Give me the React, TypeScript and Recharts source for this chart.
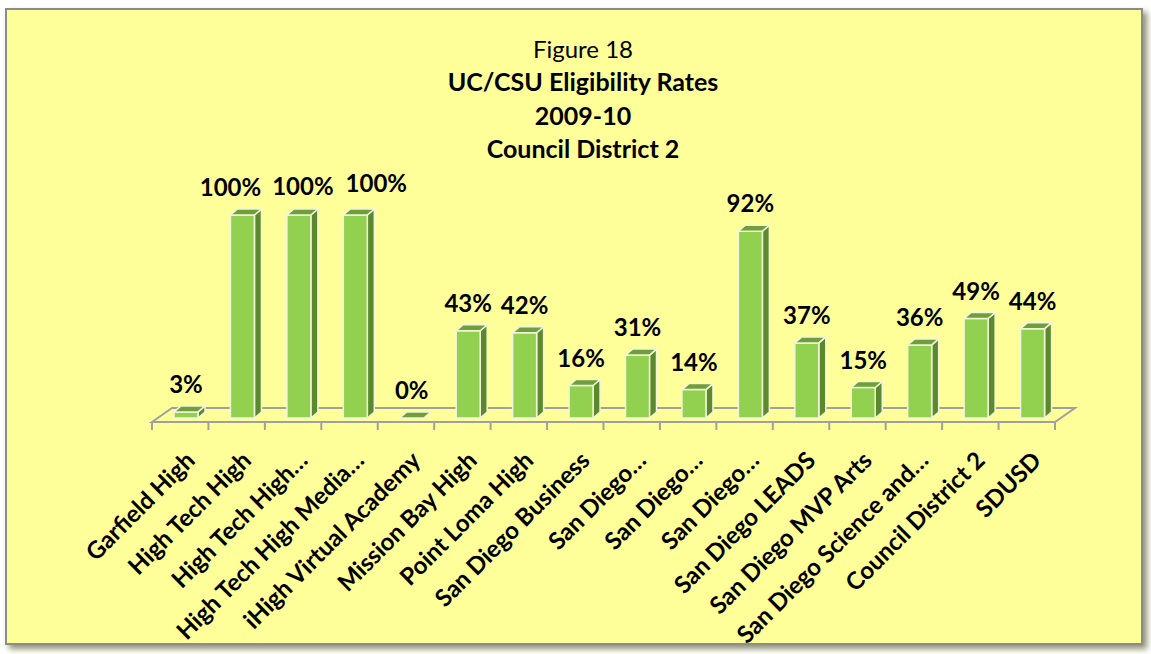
import { Bar, BarChart, LabelList, ReferenceArea, XAxis, YAxis } from "recharts";

const schools = [
  "Garfield High",
  "High Tech High",
  "High Tech High…",
  "High Tech High Media…",
  "iHigh Virtual Academy",
  "Mission Bay High",
  "Point Loma High",
  "San Diego Business",
  "San Diego…",
  "San Diego…",
  "San Diego…",
  "San Diego LEADS",
  "San Diego MVP Arts",
  "San Diego Science and…",
  "Council District 2",
  "SDUSD",
];
const rates = [3, 100, 100, 100, 0, 43, 42, 16, 31, 14, 92, 37, 15, 36, 49, 44];
const titleLines = ["Figure 18", "UC/CSU Eligibility Rates", "2009-10", "Council District 2"];

const chartData = schools.map((name, i) => ({ key: String(i), name, rate: rates[i] }));

const FONT = "Lato, 'Open Sans', sans-serif";
const SHIFT = 6; // bars sit a little behind the front edge of the floor
const DEPTH_X = 7;
const DEPTH_Y = 6;

// the three 100% labels were nudged apart in the original
const labelNudge: Record<number, [number, number]> = {
  1: [-12, 0],
  2: [4, -1],
  3: [21, -4],
};

const Bar3D = (props: any) => {
  const { x, y, width, height } = props;
  const fx = x + SHIFT;
  const h = Math.max(height, 0);
  const top = `${fx},${y} ${fx + DEPTH_X},${y - DEPTH_Y} ${fx + width + DEPTH_X},${y - DEPTH_Y} ${fx + width},${y}`;
  const side = `${fx + width},${y} ${fx + width + DEPTH_X},${y - DEPTH_Y} ${fx + width + DEPTH_X},${y + h - DEPTH_Y} ${fx + width},${y + h}`;
  return (
    <g stroke="#F4F4DC" strokeWidth={1.5} strokeLinejoin="round">
      {h > 0 && <polygon points={side} fill="#5B8A2D" />}
      {h > 0 && <rect x={fx} y={y} width={width} height={h} fill="#92D050" />}
      <polygon points={top} fill="#6E9F38" />
    </g>
  );
};

const Floor = (props: any) => {
  const { x, y, width } = props;
  const n = rates.length;
  const step = width / n;
  const front = y + 4;
  const back = y - 10;
  const dx = 20;
  return (
    <g stroke="#A0A0A0" strokeWidth={2} fill="none">
      <polygon points={`${x},${front} ${x + dx},${back} ${x + width + dx},${back} ${x + width},${front}`} />
      {Array.from({ length: n + 1 }, (_, i) => (
        <line key={i} x1={x + i * step} y1={front} x2={x + i * step} y2={front + 8} />
      ))}
    </g>
  );
};

const SchoolTick = (props: any) => {
  const { x, y, payload } = props;
  const label = schools[Number(payload.value)];
  const ax = x + 16;
  const ay = y + 44;
  return (
    <text
      x={ax}
      y={ay}
      transform={`rotate(-45, ${ax}, ${ay})`}
      textAnchor="end"
      fontFamily={FONT}
      fontWeight={700}
      fontSize={24}
      fill="#000"
    >
      {label}
    </text>
  );
};

const RateLabel = (props: any) => {
  const { x, y, width, value, index } = props;
  const [nx, ny] = labelNudge[index] ?? [0, 0];
  return (
    <text
      x={x + SHIFT + width / 2 + nx}
      y={y - 19 + ny}
      textAnchor="middle"
      fontFamily={FONT}
      fontWeight={700}
      fontSize={24}
      fill="#000"
    >
      {`${value}%`}
    </text>
  );
};

export default function App() {
  return (
    <div style={{ position: "absolute", left: 0, top: 0, width: 1151, height: 654, background: "#fff" }}>
      <div
        style={{
          position: "absolute",
          left: 5,
          top: 8,
          width: 1134,
          height: 633,
          background: "#FFFF99",
          border: "2px solid #8C8C8C",
          boxShadow: "4px 4px 6px rgba(70,70,20,0.6)",
        }}
      />
      <svg width={1151} height={654} style={{ position: "absolute", left: 0, top: 0 }}>
        {titleLines.map((t, i) => (
          <text
            key={t}
            x={583}
            y={58 + i * 33.3}
            textAnchor="middle"
            fontFamily={FONT}
            fontWeight={i === 0 ? 400 : 700}
            fontSize={i === 0 ? 24 : 25}
            fill="#000"
          >
            {t}
          </text>
        ))}
      </svg>
      <div style={{ position: "absolute", left: 0, top: 0 }}>
        <BarChart
          width={1151}
          height={654}
          data={chartData}
          margin={{ top: 215, right: 96, bottom: 0, left: 152 }}
          barSize={24}
        >
          <YAxis hide domain={[0, 100]} />
          <XAxis
            dataKey="key"
            axisLine={false}
            tickLine={false}
            tickSize={0}
            tickMargin={0}
            height={236}
            interval={0}
            tick={<SchoolTick />}
          />
          <ReferenceArea
            x1={chartData[0].key}
            x2={chartData[chartData.length - 1].key}
            y1={0}
            y2={0}
            ifOverflow="visible"
            shape={(p: any) => <Floor {...p} />}
          />
          <Bar dataKey="rate" shape={(p: any) => <Bar3D {...p} />} isAnimationActive={false}>
            <LabelList dataKey="rate" content={(p: any) => <RateLabel {...p} />} />
          </Bar>
        </BarChart>
      </div>
    </div>
  );
}
